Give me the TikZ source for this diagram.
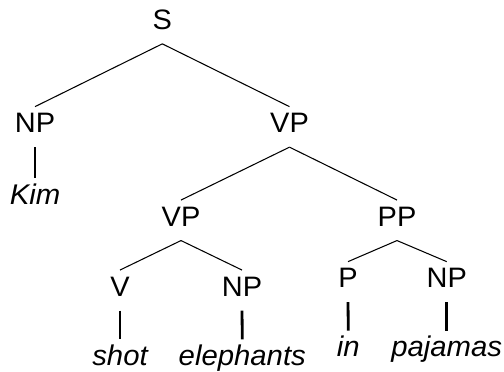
\documentclass[tikz,border=0pt]{standalone}
\usepackage{fontspec}
\setmainfont{Liberation Sans}[FakeStretch=1.03]
\usepackage{tikz}

\begin{document}
\begin{tikzpicture}[
    cat/.style={font=\fontsize{16}{19}\selectfont, inner xsep=0pt, inner ysep=0.126cm,
        text height=0.39cm, text depth=0.154cm, anchor=base},
    word/.style={cat, font=\fontsize{16.2}{19}\selectfont\itshape},
    branch/.style={line width=0.6pt},
    stem/.style={line width=1.6pt}]
    \useasboundingbox (0,0) rectangle (10.08,-7.42);
    \node[cat] (s) at (3.246,-0.59) {S};
    \node[cat] (np1) at (0.70,-2.656) {NP};
    \node[cat] (vp1) at (5.79,-2.656) {VP};
    \node[word] (kim) at (0.70,-4.09) {Kim};
    \node[cat] (vp2) at (3.62,-4.524) {VP};
    \node[cat] (pp) at (7.94,-4.524) {PP};
    \node[cat] (v) at (2.40,-5.924) {V};
    \node[cat] (np2) at (4.84,-5.924) {NP};
    \node[cat] (p) at (6.96,-5.756) {P};
    \node[cat] (np3) at (8.934,-5.756) {NP};
    \node[word] (shot) at (2.40,-7.31) {shot};
    \node[word] (eleph) at (4.846,-7.31) {elephants};
    \node[word] (in) at (6.966,-7.136) {in};
    \node[word] (paj) at (8.934,-7.136) {pajamas};
    \foreach \a/\b in {s/np1, s/vp1, vp1/vp2, vp1/pp, vp2/v, vp2/np2, pp/p, pp/np3}
        \draw[branch] (\a.south) -- (\b.north);
    \foreach \a/\b in {np1/kim, v/shot, np2/eleph, p/in, np3/paj}
        \draw[stem] (\a.south) -- (\b.north);
\end{tikzpicture}
\end{document}
